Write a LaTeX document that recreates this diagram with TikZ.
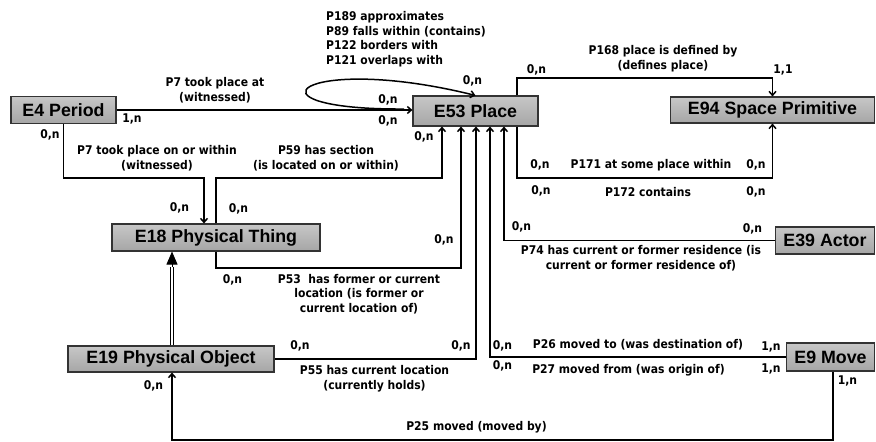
\documentclass[tikz,border=0pt]{standalone}
\usepackage{fontspec}
\setmainfont{Liberation Sans}
\newfontfamily\labfont{DejaVu Sans}[FakeStretch=0.9]
\usetikzlibrary{arrows.meta}
\tikzset{
  entity/.style={draw=black!80, line width=1.1pt, top color=black!22, middle color=white!96!black, bottom color=black!35,
    font=\fontsize{17.8}{20}\selectfont\bfseries, inner sep=0pt},
  lab/.style={font=\labfont\fontsize{12}{14.6}\selectfont\bfseries, align=center, inner sep=0pt},
  conn/.style={line width=1.5pt, -{Straight Barb[length=4pt,width=7pt]}},
  inhline/.style={double, double distance=1.8pt, line width=0.9pt},
  inhhead/.style={line width=0.9pt, -{Triangle[length=13pt,width=11pt]}}
}
\begin{document}
\begin{tikzpicture}[x=1pt,y=-1pt]
\useasboundingbox[fill=white] (0,0) rectangle (876,442);
% entities
\node[entity, minimum width=105pt, minimum height=27pt] (E4) at (63.5,110) {E4 Period};
\node[entity, minimum width=125pt, minimum height=30pt] (E53) at (475.5,111) {E53 Place};
\node[entity, minimum width=204pt, minimum height=26pt] (E94) at (772.5,110) {E94 Space Primitive};
\node[entity, minimum width=208pt, minimum height=27pt] (E18) at (216,237.5) {E18 Physical Thing};
\node[entity, minimum width=99pt, minimum height=27pt] (E39) at (825,240.5) {E39 Actor};
\node[entity, minimum width=206pt, minimum height=26pt] (E19) at (171,359) {E19 Physical Object};
\node[entity, minimum width=88pt, minimum height=28pt] (E9) at (830.5,357) {E9 Move};
% helper coordinates
\coordinate (k1) at (517,78);
\coordinate (k2) at (517,178);
\coordinate (c59) at (442,178);
\coordinate (c7) at (204,178);
\coordinate (c53) at (461,268);
\coordinate (x476) at (476,0);
\coordinate (x490) at (490,0);
\coordinate (x504) at (504,0);
\coordinate (x833) at (833,0);
\coordinate (c25) at (172,440);
\coordinate (ih) at (172,267);
\coordinate (ls) at (404,109);
% connectors
\draw[conn] (E4.east) -- (E4.east -| E53.west);
\draw[conn] (ls) .. controls (235,110) and (300,52) .. (E53.north);
\draw[conn] (E53.north -| k1) -- (k1) -| (E94.north);
\draw[conn] (E53.south -| k2) -- (k2) -| (E94.south);
\draw[conn] (E4.south) |- (c7) -- (c7 |- E18.north);
\draw[conn] (E18.north) |- (c59) -- (c59 |- E53.south);
\draw[conn] (E18.south) |- (c53) -- (c53 |- E53.south);
\draw[conn] (E19.east) -| (E53.south -| x476);
\draw[conn] (E9.west) -| (E53.south -| x490);
\draw[conn] (E39.west) -| (E53.south -| x504);
\draw[conn] (E9.south -| x833) |- (c25) -- (c25 |- E19.south);
\draw[inhline] (E19.north -| ih) -- (ih);
\draw[inhhead] (ih) -- (E18.south -| ih);
% property labels
\node[lab, align=left, anchor=west] (l1) at (326,39) {P189 approximates\\P89 falls within (contains)\\P122 borders with\\P121 overlaps with};
\node[lab] (l2) at (215,90) {P7 took place at\\(witnessed)};
\node[lab] (l3) at (663,58.5) {P168 place is defined by\\(defines place)};
\node[lab] (l4) at (157,158) {P7 took place on or within\\(witnessed)};
\node[lab] (l5) at (326,158) {P59 has section\\(is located on or within)};
\node[lab] (l6) at (651,165) {P171 at some place within};
\node[lab] (l7) at (648,192) {P172 contains};
\node[lab] (l8) at (641,258.5) {P74 has current or former residence (is\\current or former residence of)};
\node[lab] (l9) at (359,294) {P53\ \ has former or current\\location (is former or\\current location of)};
\node[lab] (l10) at (374.5,378.5) {P55 has current location\\(currently holds)};
\node[lab] (l11) at (638,345) {P26 moved to (was destination of)};
\node[lab] (l12) at (628.5,370) {P27 moved from (was origin of)};
\node[lab] (l13) at (476.5,427) {P25 moved (moved by)};
% cardinalities
\node[lab] (n1) at (132,119) {1,n};
\node[lab] (n2) at (50,135) {0,n};
\node[lab] (n3) at (388,100) {0,n};
\node[lab] (n4) at (388,121) {0,n};
\node[lab] (n5) at (472.5,81) {0,n};
\node[lab] (n6) at (536.5,70) {0,n};
\node[lab] (n7) at (783,70) {1,1};
\node[lab] (n8) at (424,137) {0,n};
\node[lab] (n9) at (179.5,208) {0,n};
\node[lab] (n10) at (238.5,209) {0,n};
\node[lab] (n11) at (444,240) {0,n};
\node[lab] (n12) at (232.5,280) {0,n};
\node[lab] (n13) at (540,165) {0,n};
\node[lab] (n14) at (541,191) {0,n};
\node[lab] (n15) at (756,165) {0,n};
\node[lab] (n16) at (756,192) {0,n};
\node[lab] (n17) at (521.5,227) {0,n};
\node[lab] (n18) at (752.5,229) {0,n};
\node[lab] (n19) at (300,346) {0,n};
\node[lab] (n20) at (461,346) {0,n};
\node[lab] (n21) at (502.5,346) {0,n};
\node[lab] (n22) at (502.5,366) {0,n};
\node[lab] (n23) at (771,347) {1,n};
\node[lab] (n24) at (771,369) {1,n};
\node[lab] (n25) at (847.5,381) {1,n};
\node[lab] (n26) at (153.5,386) {0,n};
\end{tikzpicture}
\end{document}
